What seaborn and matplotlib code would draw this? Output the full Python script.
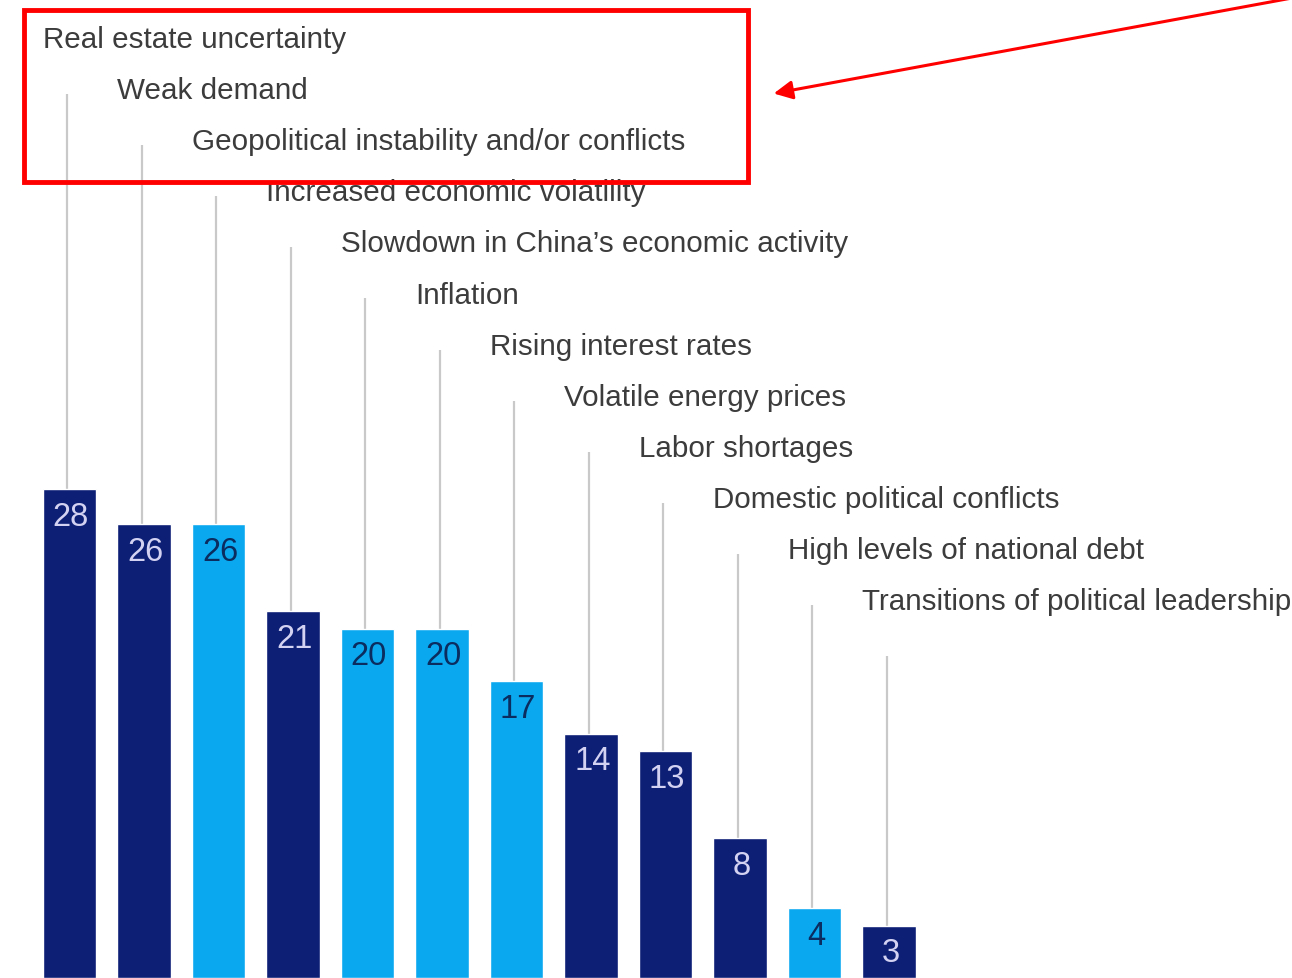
import matplotlib
matplotlib.use("Agg")
import matplotlib.pyplot as plt
import seaborn as sns
import pandas as pd
from matplotlib.patches import Rectangle, FancyArrowPatch

categories = [
    "Real estate uncertainty",
    "Weak demand",
    "Geopolitical instability and/or conflicts",
    "Increased economic volatility",
    "Slowdown in China\u2019s economic activity",
    "Inflation",
    "Rising interest rates",
    "Volatile energy prices",
    "Labor shortages",
    "Domestic political conflicts",
    "High levels of national debt",
    "Transitions of political leadership",
]
values = [28, 26, 26, 21, 20, 20, 17, 14, 13, 8, 4, 3]
shade = ["dark", "dark", "light", "dark", "light", "light", "light",
         "dark", "dark", "dark", "light", "dark"]

DARK = "#0c1f75"
LIGHT = "#0aa8ef"
TXT_ON_DARK = "#d4d2f2"
TXT_ON_LIGHT = "#0b2c5e"

sns.set_theme(style="white")
plt.rcParams["font.family"] = ["Liberation Sans", "DejaVu Sans"]

df = pd.DataFrame({"cat": categories, "val": values, "shade": shade})

W, H = 1292, 979
fig = plt.figure(figsize=(W / 100, H / 100), dpi=100)
ax = fig.add_axes([0, 0, 1, 1])

pal = {"dark": DARK, "light": LIGHT}
sns.barplot(data=df, x="cat", y="val", hue="shade", palette=pal,
            dodge=False, width=0.72, legend=False, ax=ax, saturation=1)

# scales derived from the picture geometry
px_x = 74.5
px_y = 17.46
x0 = 69.5
ax.set_xlim(-x0 / px_x, (W - x0) / px_x)
ax.set_ylim(0, H / px_y)
ax.axis("off")

def ypix(p):
    return (H - p) / px_y

for i, (c, v, s) in enumerate(zip(categories, values, shade)):
    lp = 40 + 51.1 * i
    ax.text(i - 0.36, ypix(lp), c, fontsize=21.3, color="#3c3c3c",
            ha="left", va="center", zorder=5)
    ax.plot([i - 0.03, i - 0.03], [ypix(lp + 55), v],
            color="#c9c9c9", lw=1.6, zorder=1, solid_capstyle="butt")
    ax.text(i + 0.02, v - 27 / px_y, str(v), fontsize=23.5,
            color=TXT_ON_DARK if s == "dark" else TXT_ON_LIGHT,
            ha="center", va="center", zorder=6)

for p in ax.patches:
    p.set_zorder(3)

# red highlight box and arrow (figure pixel coords)
box = Rectangle((24 / W, 1 - 183 / H), (748 - 24) / W, (183 - 11) / H,
                transform=fig.transFigure, fill=False, edgecolor="#ff0000",
                lw=3.5, zorder=10)
fig.add_artist(box)
arrow = FancyArrowPatch((1292 / W, 1 - (-1) / H), (771 / W, 1 - 95 / H),
                        transform=fig.transFigure, arrowstyle="-|>",
                        mutation_scale=28, color="#ff0000", lw=2.2, zorder=10)
fig.add_artist(arrow)

fig.savefig("out.png", dpi=100)
